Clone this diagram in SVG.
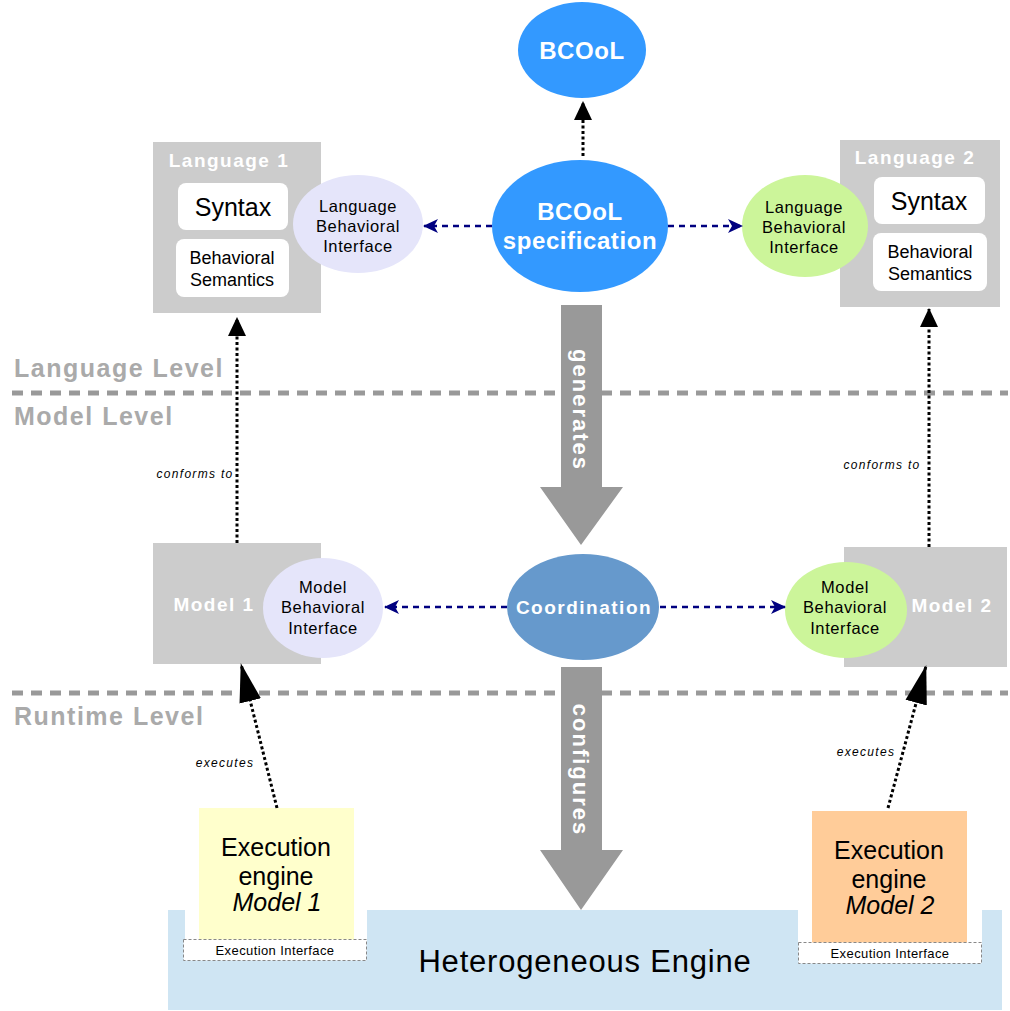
<svg xmlns="http://www.w3.org/2000/svg" width="1010" height="1011" viewBox="0 0 1010 1011">
<style>
text{font-family:"Liberation Sans",Arial,sans-serif;}
.gbox{fill:#cccccc;}
.wbox{fill:#ffffff;}
.ttl{fill:#ffffff;font-weight:bold;font-size:19px;letter-spacing:1.5px;text-anchor:middle;}
.syn{fill:#000;font-size:25px;text-anchor:middle;}
.sem{fill:#000;font-size:18px;text-anchor:middle;}
.bi{fill:#000;font-size:16.5px;letter-spacing:0.6px;text-anchor:middle;}
.lav{fill:#e5e5fa;}
.grn{fill:#ccf59a;}
.blue{fill:#3399ff;}
.big{fill:#fff;font-weight:bold;font-size:24px;letter-spacing:0.6px;text-anchor:middle;}
.lvl{fill:#aaaaaa;font-weight:bold;font-size:25px;letter-spacing:1.5px;}
.lvline{stroke:#999999;stroke-width:5;stroke-dasharray:11 8;fill:none;}
.dot{stroke:#000;stroke-width:3;stroke-dasharray:3 2.5;fill:none;}
.navy{stroke:#000080;stroke-width:2.5;stroke-dasharray:6 5;fill:none;}
.lbl{fill:#000;font-style:italic;font-size:12px;letter-spacing:1.3px;text-anchor:middle;}
.blk{fill:#999999;}
.vtx{fill:#fff;font-weight:bold;font-size:22px;letter-spacing:2px;text-anchor:middle;}
.eng{fill:#000;font-size:25px;text-anchor:middle;}
.ei{fill:#fff;stroke:#888;stroke-width:1;stroke-dasharray:3 2;}
.eit{fill:#000;font-size:13px;letter-spacing:0.4px;text-anchor:middle;}
</style>
<defs>
<marker id="ah" markerUnits="userSpaceOnUse" markerWidth="20" markerHeight="20" viewBox="0 0 20 20" refX="18" refY="10" orient="auto">
<path d="M0,1 L19,10 L0,19 z" fill="#000"/>
</marker>
<marker id="ahbig" markerUnits="userSpaceOnUse" markerWidth="40" markerHeight="26" viewBox="0 0 40 26" refX="38" refY="13" orient="auto">
<path d="M0,2 L39,13 L0,24 z" fill="#000"/>
</marker>
<marker id="nav" markerUnits="userSpaceOnUse" markerWidth="16" markerHeight="16" viewBox="0 0 16 16" refX="14" refY="8" orient="auto">
<path d="M0,1 L15,8 L0,15 L4,8 z" fill="#000080"/>
</marker>
</defs>

<rect width="1010" height="1011" fill="#ffffff"/>

<!-- level lines -->
<g id="levels">
<line class="lvline" x1="12" y1="393" x2="1008" y2="393"/>
<line class="lvline" x1="12" y1="693" x2="1008" y2="693"/>
<text class="lvl" x="14" y="377">Language Level</text>
<text class="lvl" x="14" y="425">Model Level</text>
<text class="lvl" x="14" y="725">Runtime Level</text>
</g>

<!-- Heterogeneous Engine -->
<g id="hetero">
<rect x="168" y="910" width="834" height="100" fill="#cfe5f3"/>
<rect x="185" y="905" width="182" height="40" fill="#fff"/>
<rect x="798" y="905" width="184" height="40" fill="#fff"/>
<text x="585" y="972" fill="#000" font-size="31" letter-spacing="0.8" text-anchor="middle">Heterogeneous Engine</text>
</g>

<g id="engine1">
<rect x="199" y="808" width="155" height="135" fill="#ffffcc"/>
<text class="eng" x="276" y="856">Execution</text>
<text class="eng" x="276" y="885">engine</text>
<text class="eng" x="277" y="911" font-style="italic" font-size="22">Model 1</text>
<rect class="ei" x="183.5" y="939.5" width="183" height="21"/>
<text class="eit" x="275" y="955">Execution Interface</text>
</g>

<g id="engine2">
<rect x="812" y="811" width="155" height="134" fill="#ffcc99"/>
<text class="eng" x="889" y="859">Execution</text>
<text class="eng" x="889" y="888">engine</text>
<text class="eng" x="890" y="914" font-style="italic" font-size="22">Model 2</text>
<rect class="ei" x="798.5" y="942.5" width="183" height="21"/>
<text class="eit" x="890" y="958">Execution Interface</text>
</g>

<!-- Language 1 -->
<g id="language1">
<rect class="gbox" x="153" y="142" width="168" height="171"/>
<text class="ttl" x="229" y="167">Language 1</text>
<rect class="wbox" x="178" y="183" width="110" height="47" rx="8"/>
<text class="syn" x="233" y="216">Syntax</text>
<rect class="wbox" x="176" y="239" width="113" height="58" rx="8"/>
<text class="sem" x="232" y="264">Behavioral</text>
<text class="sem" x="232" y="286">Semantics</text>
</g>
<g id="lbi1">
<ellipse class="lav" cx="358" cy="224" rx="65" ry="49"/>
<text class="bi" x="358" y="212">Language</text>
<text class="bi" x="358" y="232">Behavioral</text>
<text class="bi" x="358" y="252">Interface</text>
</g>

<!-- Language 2 -->
<g id="language2">
<rect class="gbox" x="840" y="140" width="160" height="167"/>
<text class="ttl" x="915" y="164">Language 2</text>
<rect class="wbox" x="874" y="177" width="111" height="47" rx="8"/>
<text class="syn" x="929" y="210">Syntax</text>
<rect class="wbox" x="873" y="233" width="114" height="58" rx="8"/>
<text class="sem" x="930" y="258">Behavioral</text>
<text class="sem" x="930" y="280">Semantics</text>
</g>
<g id="lbi2">
<ellipse class="grn" cx="805" cy="226" rx="63" ry="51"/>
<text class="bi" x="804" y="213">Language</text>
<text class="bi" x="804" y="233">Behavioral</text>
<text class="bi" x="804" y="253">Interface</text>
</g>

<!-- BCOoL -->
<g id="bcool">
<ellipse class="blue" cx="582" cy="50" rx="64" ry="48"/>
<text class="big" x="582" y="59">BCOoL</text>
</g>
<g id="bcoolspec">
<ellipse class="blue" cx="580" cy="226" rx="88" ry="66"/>
<text class="big" x="580" y="220">BCOoL</text>
<text class="big" x="580" y="249">specification</text>
</g>

<!-- Models -->
<g id="model1">
<rect class="gbox" x="153" y="543" width="168" height="121"/>
<text class="ttl" x="214" y="611">Model 1</text>
</g>
<g id="mbi1">
<ellipse class="lav" cx="323" cy="608" rx="60" ry="50"/>
<text class="bi" x="323" y="593">Model</text>
<text class="bi" x="323" y="613">Behavioral</text>
<text class="bi" x="323" y="634">Interface</text>
</g>
<g id="model2">
<rect class="gbox" x="844" y="547" width="163" height="120"/>
<text class="ttl" x="952" y="612">Model 2</text>
</g>
<g id="mbi2">
<ellipse class="grn" cx="846" cy="610" rx="61" ry="48"/>
<text class="bi" x="845" y="593">Model</text>
<text class="bi" x="845" y="613">Behavioral</text>
<text class="bi" x="845" y="634">Interface</text>
</g>

<g id="coordination">
<ellipse cx="583" cy="607" rx="76" ry="53" fill="#6699cc"/>
<text class="ttl" x="584" y="614">Coordination</text>
</g>

<!-- connectors -->
<g id="connectors">
<line class="dot" x1="583" y1="156" x2="583" y2="102" marker-end="url(#ah)"/>
<line class="dot" x1="237" y1="543" x2="237" y2="318" marker-end="url(#ah)"/>
<line class="dot" x1="929" y1="547" x2="929" y2="309" marker-end="url(#ah)"/>
<line class="dot" x1="277" y1="808" x2="241" y2="664" marker-end="url(#ahbig)"/>
<line class="dot" x1="888" y1="808" x2="926" y2="666" marker-end="url(#ahbig)"/>
<line class="navy" x1="492" y1="226" x2="424" y2="226" marker-end="url(#nav)"/>
<line class="navy" x1="668" y1="226" x2="742" y2="226" marker-end="url(#nav)"/>
<line class="navy" x1="507" y1="607" x2="385" y2="607" marker-end="url(#nav)"/>
<line class="navy" x1="660" y1="607" x2="785" y2="607" marker-end="url(#nav)"/>
<path class="blk" d="M561,305 H602 V487 H623 L581,545 L540,487 H561 Z"/>
<path class="blk" d="M561,667 H602 V850 H623 L581,910 L540,850 H561 Z"/>
<text class="vtx" transform="translate(581,410) rotate(90)" dy="0.35em">generates</text>
<text class="vtx" transform="translate(581,770) rotate(90)" dy="0.35em">configures</text>
<text class="lbl" x="195" y="478">conforms to</text>
<text class="lbl" x="882" y="469">conforms to</text>
<text class="lbl" x="225" y="767">executes</text>
<text class="lbl" x="866" y="756">executes</text>
</g>
</svg>
